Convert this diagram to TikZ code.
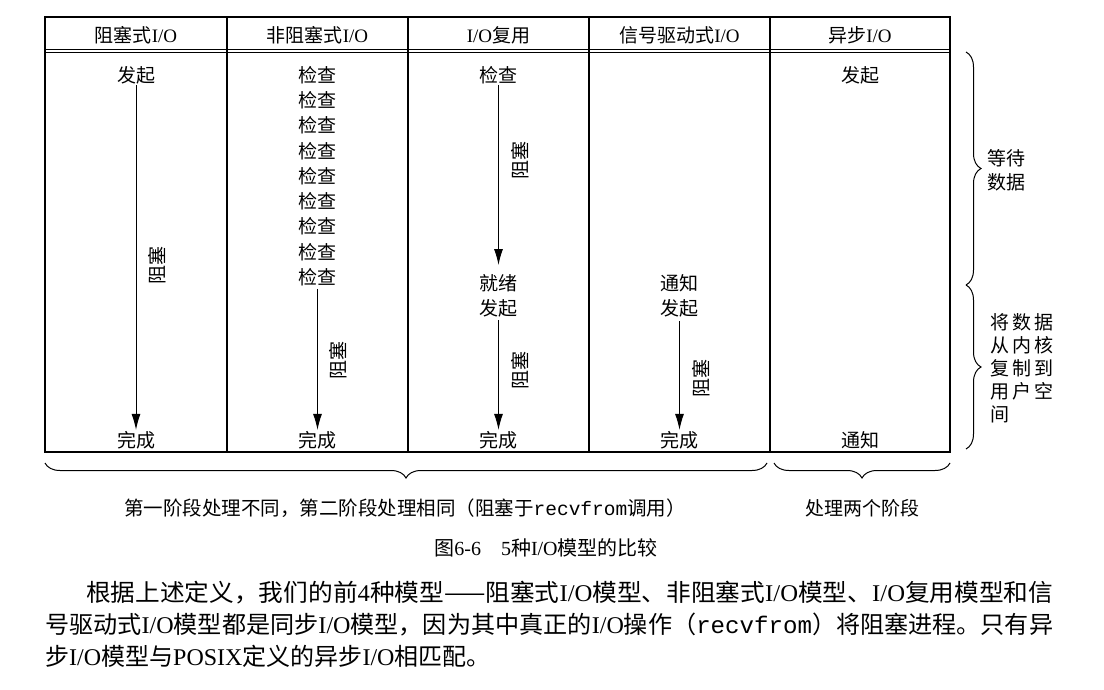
\documentclass[tikz,border=0pt]{standalone}
\usepackage{fontspec}
\usepackage{graphicx}
\setmainfont{Liberation Serif}
\setmonofont{Liberation Mono}
\newfontfamily\cjk{Noto Sans CJK SC}
\usetikzlibrary{arrows.meta,decorations.pathreplacing}
\newcommand{\zh}[1]{{\cjk #1}}
\newcommand{\fsz}{\fontsize{19}{23}\selectfont}
\newcommand{\csz}{\fontsize{20}{24}\selectfont}
\newcommand{\psz}{\fontsize{24}{28}\selectfont}
\tikzset{
  lbl/.style={font=\fsz, inner sep=1pt},
  blk/.style={font=\fsz, inner sep=0pt, rotate=90},
  arr/.style={-{Latex[length=16pt,width=9pt]}, line width=1pt},
  tbl/.style={line width=1.1pt},
  brc/.style={decorate, decoration={brace, amplitude=15pt}, line width=1pt},
  para/.style={font=\psz, inner sep=0pt, anchor=west},
}
\begin{document}
\begin{tikzpicture}[x=1pt,y=-1pt]
\useasboundingbox (0,0) rectangle (1104,690);
% table
\draw[tbl] (45,17) rectangle (950,452);
\draw[tbl] (45,49.5) -- (950,49.5);
\draw[tbl] (45,52.5) -- (950,52.5);
\foreach \xx in {227,408,589,770} \draw[tbl] (\xx,17) -- (\xx,452);
% headers
\node[lbl] (h1) at (136,35) {\zh{阻塞式}I/O};
\node[lbl] (h2) at (317.5,35) {\zh{非阻塞式}I/O};
\node[lbl] (h3) at (498.5,35) {I/O\zh{复用}};
\node[lbl] (h4) at (679.5,35) {\zh{信号驱动式}I/O};
\node[lbl] (h5) at (860,35) {\zh{异步}I/O};
% column 1
\node[lbl] (a1) at (136,75) {\zh{发起}};
\node[lbl] (a2) at (136,440) {\zh{完成}};
\draw[arr] (a1.south) -- (a2.north);
\node[blk] (ab) at (157,265) {\zh{阻塞}};
% column 2
\foreach \i in {1,...,9} {
  \node[lbl] (c\i) at (317.5,{75+25.25*(\i-1)}) {\zh{检查}};
}
\node[lbl] (c10) at (317.5,440) {\zh{完成}};
\draw[arr] ([yshift=-2pt]c9.south) -- (c10.north);
\node[blk] (cb) at (338,360) {\zh{阻塞}};
% column 3
\node[lbl] (d1) at (498.5,75) {\zh{检查}};
\node[lbl] (d2) at (498.5,283) {\zh{就绪}};
\node[lbl] (d3) at (498.5,308) {\zh{发起}};
\node[lbl] (d4) at (498.5,440) {\zh{完成}};
\draw[arr, shorten >=8pt] (d1.south) -- (d2.north);
\draw[arr] ([yshift=-2pt]d3.south) -- (d4.north);
\node[blk] (db1) at (520,160) {\zh{阻塞}};
\node[blk] (db2) at (520,370) {\zh{阻塞}};
% column 4
\node[lbl] (e1) at (679.5,283) {\zh{通知}};
\node[lbl] (e2) at (679.5,308) {\zh{发起}};
\node[lbl] (e3) at (679.5,440) {\zh{完成}};
\draw[arr] ([yshift=-3pt]e2.south) -- (e3.north);
\node[blk] (eb) at (701,378) {\zh{阻塞}};
% column 5
\node[lbl] (f1) at (860,75) {\zh{发起}};
\node[lbl] (f2) at (860,440) {\zh{通知}};
% right braces
\coordinate (r1) at (966,52);
\coordinate (r2) at (966,285);
\coordinate (r3) at (966,449);
\draw[brc] (r1) -- (r2);
\draw[brc] (r2) -- (r3);
\node[lbl, anchor=west, align=left, font=\fsz\cjk] (rl1) at (986,170) {等待\\[1pt]数据};
\node[lbl, anchor=west, align=left, font=\fsz\cjk] (rl2) at (989,368)
  {将\,数\,据\\从\,内\,核\\复\,制\,到\\用\,户\,空\\间};
% bottom braces
\coordinate (b1) at (45,463);
\coordinate (b2) at (767,463);
\coordinate (b3) at (774,463);
\coordinate (b4) at (950,463);
\draw[brc] (b2) -- (b1);
\draw[brc] (b4) -- (b3);
\node[lbl, font=\fontsize{19.5}{23}\selectfont] (bl1) at (405,508) {\zh{第一阶段处理不同，第二阶段处理相同（阻塞于}\texttt{recvfrom}\zh{调用）}};
\node[lbl] (bl2) at (862,508) {\zh{处理两个阶段}};
% caption
\node[lbl, font=\csz] (cap) at (546,548) {\zh{图}6-6\hspace{1em}5\zh{种}I/O\zh{模型的比较}};
% paragraph
\node[para] (p1) at (86,593) {\resizebox{967pt}{\height}{\zh{根据上述定义，我们的前}4\zh{种模型——阻塞式}I/O\zh{模型、非阻塞式}I/O\zh{模型、}I/O\zh{复用模型和信}}};
\node[para] (p2) at (45,625) {\resizebox{1008pt}{\height}{\zh{号驱动式}I/O\zh{模型都是同步}I/O\zh{模型，因为其中真正的}I/O\zh{操作（}\texttt{recvfrom}\zh{）将阻塞进程。只有异}}};
\node[para] (p3) at (45,656) {\zh{步}I/O\zh{模型与}POSIX\zh{定义的异步}I/O\zh{相匹配。}};
\end{tikzpicture}
\end{document}
